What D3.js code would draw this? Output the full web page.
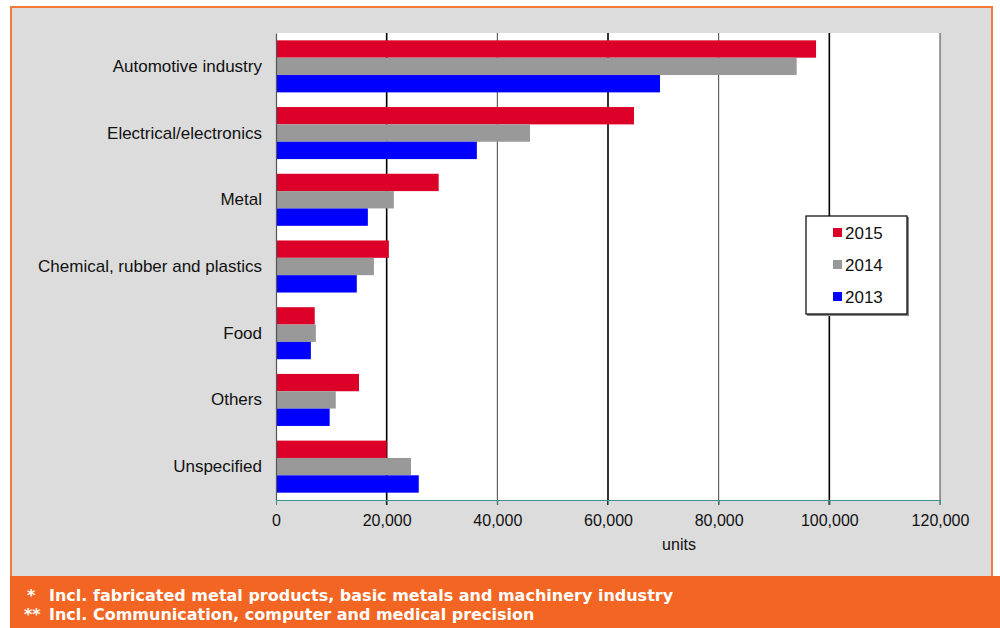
<!DOCTYPE html>
<html>
<head>
<meta charset="utf-8">
<script src="https://cdn.jsdelivr.net/npm/d3@7/dist/d3.min.js"></script>
<style>
  body { margin: 0; background: #ffffff; }
  svg { display: block; }
</style>
</head>
<body>
<script>
// categories (top to bottom)
var categories = [ 'Automotive industry', 'Electrical/electronics', 'Metal',
  'Chemical, rubber and plastics', 'Food', 'Others', 'Unspecified' ];
var years = [ '2015', '2014', '2013' ];
// units per year, same order as categories
var values2015 = [ 97600, 64700, 29400, 20400, 7000, 15000, 20000 ];
var values2014 = [ 94100, 45900, 21300, 17700, 7200, 10800, 24400 ];
var values2013 = [ 69400, 36300, 16600, 14600, 6300, 9700, 25800 ];
var xTicks = [ 0, 20000, 40000, 60000, 80000, 100000, 120000 ];
var footMarks = [ '*', '**' ];
var footnotes = [ 'Incl. fabricated metal products, basic metals and machinery industry',
  'Incl. Communication, computer and medical precision' ];

var Chart = {
  w : 1000,
  h : 628,
  colors : { '2015' : '#dc0028', '2014' : '#999999', '2013' : '#0000ff' },
  series : { '2015' : values2015, '2014' : values2014, '2013' : values2013 },
  font : 'Liberation Sans, Arial, sans-serif',
  svg : {}
};

Chart.init = function() {
  var svg = this.svg = d3.select( 'body' ).append( 'svg' )
    .attr( 'width', this.w ).attr( 'height', this.h );

  // gray panel with orange frame
  svg.append( 'rect' ).attr( 'x', 11 ).attr( 'y', 7 ).attr( 'width', 981 ).attr( 'height', 580 )
    .attr( 'fill', '#dcdcdc' ).attr( 'stroke', '#f4793b' ).attr( 'stroke-width', 2 );

  // orange footer
  svg.append( 'rect' ).attr( 'x', 10 ).attr( 'y', 576 ).attr( 'width', 990 ).attr( 'height', 52 )
    .attr( 'fill', '#f26522' );
  var foot = svg.selectAll( 'g.foot' ).data( footnotes ).enter().append( 'g' )
    .attr( 'class', 'foot' )
    .attr( 'transform', function( d, i ) { return 'translate(0,' + ( 601 + i * 19 ) + ')'; } )
    .attr( 'fill', '#ffffff' ).attr( 'font-family', 'DejaVu Sans, sans-serif' )
    .attr( 'font-weight', 'bold' ).attr( 'font-size', 16 );
  foot.append( 'text' ).attr( 'x', function( d, i ) { return i === 0 ? 27 : 24; } )
    .text( function( d, i ) { return footMarks[ i ]; } );
  foot.append( 'text' ).attr( 'x', 49 ).text( function( d ) { return d; } );

  var left = 276, right = 940, top = 33, bottom = 500;
  var x = d3.scaleLinear().domain( [ 0, 120000 ] ).range( [ left, right ] );
  var y = d3.scaleBand().domain( categories ).range( [ top, bottom ] )
    .paddingInner( 0.22 ).paddingOuter( 0.11 );
  var ySub = d3.scaleBand().domain( years ).range( [ 0, y.bandwidth() ] );

  // plot background
  svg.append( 'rect' ).attr( 'x', left ).attr( 'y', top )
    .attr( 'width', right - left ).attr( 'height', bottom - top ).attr( 'fill', '#ffffff' );

  // gridlines, alternating heavy / light
  svg.selectAll( 'line.grid' ).data( xTicks.slice( 1 ) ).enter().append( 'line' )
    .attr( 'class', 'grid' )
    .attr( 'x1', function( d ) { return x( d ); } ).attr( 'x2', function( d ) { return x( d ); } )
    .attr( 'y1', top ).attr( 'y2', bottom + 5 )
    .attr( 'stroke', function( d, i ) { return i % 2 === 0 ? '#000000' : '#444444'; } )
    .attr( 'stroke-width', function( d, i ) { return i % 2 === 0 ? 1.6 : 1; } );

  // bars
  var groups = svg.selectAll( 'g.cat' ).data( categories ).enter().append( 'g' )
    .attr( 'class', 'cat' )
    .attr( 'transform', function( d ) { return 'translate(0,' + y( d ) + ')'; } );
  groups.selectAll( 'rect' )
    .data( function( d, i ) {
      return years.map( function( yr ) { return { year : yr, value : Chart.series[ yr ][ i ] }; } );
    } )
    .enter().append( 'rect' )
    .attr( 'x', x( 0 ) )
    .attr( 'y', function( d ) { return ySub( d.year ); } )
    .attr( 'width', function( d ) { return x( d.value ) - x( 0 ); } )
    .attr( 'height', ySub.bandwidth() )
    .attr( 'fill', function( d ) { return Chart.colors[ d.year ]; } );

  // y axis
  var yAxis = svg.append( 'g' ).attr( 'transform', 'translate(' + left + ',0)' )
    .call( d3.axisLeft( y ).tickSize( 0 ).tickPadding( 14 ) );
  yAxis.select( '.domain' ).attr( 'stroke', '#555555' ).attr( 'stroke-width', 1.2 );
  yAxis.selectAll( 'text' ).attr( 'font-family', this.font )
    .attr( 'font-size', 17 ).attr( 'fill', '#111111' );

  // x axis
  var xAxis = svg.append( 'g' ).attr( 'transform', 'translate(0,' + bottom + ')' )
    .call( d3.axisBottom( x ).tickValues( xTicks ).tickSize( 5 ).tickSizeOuter( 0 )
      .tickPadding( 10 ).tickFormat( d3.format( ',' ) ) );
  xAxis.select( '.domain' ).attr( 'stroke', '#3f918b' ).attr( 'stroke-width', 1.2 );
  xAxis.selectAll( '.tick line' ).attr( 'stroke', '#3f918b' );
  xAxis.selectAll( 'text' ).attr( 'font-family', this.font )
    .attr( 'font-size', 16 ).attr( 'fill', '#111111' );

  svg.append( 'text' ).attr( 'x', x( 60000 ) + 71 ).attr( 'y', 550 )
    .attr( 'text-anchor', 'middle' ).attr( 'font-family', this.font )
    .attr( 'font-size', 16 ).attr( 'fill', '#111111' ).text( 'units' );

  // legend
  var lg = svg.append( 'g' ).attr( 'transform', 'translate(806,216)' );
  lg.append( 'rect' ).attr( 'x', 1 ).attr( 'y', 1 ).attr( 'width', 102 ).attr( 'height', 99 )
    .attr( 'fill', '#888888' );
  lg.append( 'rect' ).attr( 'width', 101 ).attr( 'height', 98 )
    .attr( 'fill', '#ffffff' ).attr( 'stroke', '#000000' ).attr( 'stroke-width', 1.2 );
  var items = lg.selectAll( 'g.item' ).data( years ).enter().append( 'g' )
    .attr( 'class', 'item' )
    .attr( 'transform', function( d, i ) { return 'translate(27,' + ( 17 + i * 32 ) + ')'; } );
  items.append( 'rect' ).attr( 'x', 0 ).attr( 'y', -5 ).attr( 'width', 9 ).attr( 'height', 9 )
    .attr( 'fill', function( d ) { return Chart.colors[ d ]; } );
  items.append( 'text' ).attr( 'x', 12 ).attr( 'y', 6 )
    .attr( 'font-family', this.font ).attr( 'font-size', 17 )
    .attr( 'fill', '#111111' ).text( function( d ) { return d; } );
};

Chart.init();
</script>
</body>
</html>
